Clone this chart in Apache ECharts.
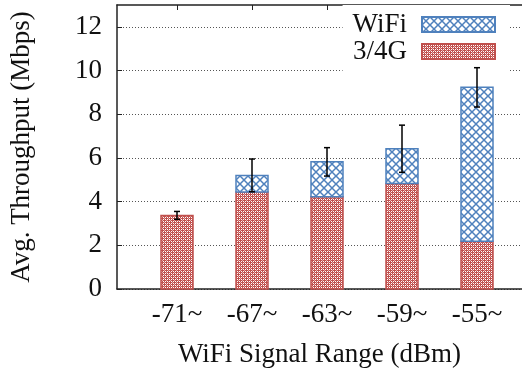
<!DOCTYPE html>
<html>
<head>
<meta charset="utf-8">
<script src="https://cdn.jsdelivr.net/npm/echarts@6/dist/echarts.min.js"></script>
<style>
  html, body { margin: 0; padding: 0; background: #fff; }
  #chart { width: 522px; height: 375px; }
</style>
</head>
<body>
<div id="chart"></div>
<script>
// WiFi signal ranges on the x axis
var categories = ['-71~', '-67~', '-63~', '-59~', '-55~']
// throughput carried by the cellular link (bottom of each stack)
var cellValues = [3.37, 4.44, 4.22, 4.83, 2.19]
// throughput carried by wifi (top of each stack)
var wifiValues = [0, 0.76, 1.60, 1.59, 7.04]
// half length of the error bar around the stack total
var errValues = [0.18, 0.75, 0.65, 1.08, 0.90]
var yTicks = [0, 2, 4, 6, 8, 10, 12]

var FONT = '"Liberation Serif", "DejaVu Serif", serif'
var FS = 27
var RED = '#c0504d'
var BLUE = '#4f81bd'

function makeCross() {
  var c = document.createElement('canvas')
  c.width = 8
  c.height = 8
  var ctx = c.getContext('2d')
  ctx.fillStyle = '#fff'
  ctx.fillRect(0, 0, 8, 8)
  ctx.strokeStyle = BLUE
  ctx.lineWidth = 1.5
  ctx.beginPath()
  ctx.moveTo(0, 0); ctx.lineTo(8, 8)
  ctx.moveTo(8, 0); ctx.lineTo(0, 8)
  ctx.stroke()
  return c
}

function makeChecker() {
  var c = document.createElement('canvas')
  c.width = 4
  c.height = 4
  var ctx = c.getContext('2d')
  ctx.fillStyle = RED
  ctx.fillRect(0, 0, 4, 4)
  ctx.fillStyle = '#fff'
  ctx.fillRect(1, 1, 1, 1)
  ctx.fillRect(3, 3, 1, 1)
  ctx.fillRect(3, 1, 1, 1)
  ctx.fillRect(1, 3, 1, 1)
  ctx.fillStyle = '#e3a9a7'
  ctx.fillRect(0, 2, 1, 1)
  ctx.fillRect(2, 0, 1, 1)
  return c
}

var crossFill = { image: makeCross(), repeat: 'repeat' }
var checkFill = { image: makeChecker(), repeat: 'repeat' }

// [x, bottom, top] for every box
var cellData = cellValues.map(function (v, i) { return [i, 0, v] })
var wifiData = wifiValues.map(function (v, i) { return [i, cellValues[i], cellValues[i] + v] })
var errData = cellValues.map(function (v, i) {
  var m = v + wifiValues[i]
  return [i, m - errValues[i], m + errValues[i]]
})
var xIdx = categories.map(function (c, i) { return i })

var myChart = echarts.init(document.getElementById('chart'))

var axisLine = { show: true, onZero: false, lineStyle: { color: '#222', width: 1.5 } }
var textBase = { fontFamily: FONT, fontSize: FS, color: '#111' }

function boxRenderer(fill, stroke) {
  return function (params, api) {
    var x = api.value(0)
    var y0 = api.value(1)
    var y1 = api.value(2)
    if (y1 <= y0) return null
    var p0 = api.coord([x, y0])
    var p1 = api.coord([x, y1])
    return {
      type: 'rect',
      shape: { x: p0[0] - 16, y: p1[1], width: 32, height: p0[1] - p1[1] },
      style: { fill: fill, stroke: stroke, lineWidth: 1.5 }
    }
  }
}

var option = {
  animation: false,
  backgroundColor: '#fff',
  grid: { left: 117, right: -6, top: 5, bottom: 86 },
  legend: {
    orient: 'vertical',
    right: 12,
    top: 5,
    align: 'right',
    itemWidth: 73,
    itemHeight: 15,
    itemGap: 0,
    padding: [6, 14, 6, 10],
    backgroundColor: '#fff',
    textStyle: Object.assign({ lineHeight: 27, padding: [0, 10, 0, 0] }, textBase),
    data: [{ name: 'WiFi', icon: 'rect' }, { name: '3/4G', icon: 'rect' }]
  },
  xAxis: [
    {
      type: 'value',
      min: -0.8,
      max: 4.6,
      name: 'WiFi Signal Range (dBm)',
      nameLocation: 'middle',
      nameGap: 52,
      nameTextStyle: textBase,
      axisLine: axisLine,
      axisTick: { show: true, inside: true, length: 5, customValues: xIdx, lineStyle: { color: '#222' } },
      axisLabel: Object.assign({
        customValues: xIdx,
        margin: 12,
        formatter: function (v) { return categories[Math.round(v)] }
      }, textBase),
      splitLine: { show: false }
    },
    {
      type: 'value',
      position: 'top',
      min: -0.8,
      max: 4.6,
      axisLine: axisLine,
      axisTick: { show: true, inside: true, length: 5, customValues: xIdx, lineStyle: { color: '#222' } },
      axisLabel: { show: false },
      splitLine: { show: false }
    }
  ],
  yAxis: {
    type: 'value',
    min: 0,
    max: 13,
    interval: 2,
    name: 'Avg. Throughput (Mbps)',
    nameLocation: 'middle',
    nameGap: 82,
    nameTextStyle: textBase,
    axisLine: axisLine,
    axisTick: { show: true, inside: true, length: 5, customValues: yTicks, lineStyle: { color: '#222' } },
    axisLabel: Object.assign({ customValues: yTicks, margin: 15 }, textBase),
    splitLine: { show: true, lineStyle: { color: '#555', width: 1, type: [1, 2] } }
  },
  series: [
    {
      name: '3/4G',
      type: 'custom',
      data: cellData,
      encode: { x: 0, y: [1, 2] },
      itemStyle: { color: checkFill, borderColor: RED, borderWidth: 1.5 },
      renderItem: boxRenderer(checkFill, RED)
    },
    {
      name: 'WiFi',
      type: 'custom',
      data: wifiData,
      encode: { x: 0, y: [1, 2] },
      itemStyle: { color: crossFill, borderColor: BLUE, borderWidth: 1.5 },
      renderItem: boxRenderer(crossFill, BLUE)
    },
    {
      name: 'err',
      type: 'custom',
      z: 5,
      data: errData,
      encode: { x: 0, y: [1, 2] },
      renderItem: function (params, api) {
        var x = api.value(0)
        var lo = api.coord([x, api.value(1)])
        var hi = api.coord([x, api.value(2)])
        var w = 3
        var style = { stroke: '#000', lineWidth: 1.5 }
        return {
          type: 'group',
          children: [
            { type: 'line', shape: { x1: hi[0], y1: hi[1], x2: lo[0], y2: lo[1] }, style: style },
            { type: 'line', shape: { x1: hi[0] - w, y1: hi[1], x2: hi[0] + w, y2: hi[1] }, style: style },
            { type: 'line', shape: { x1: lo[0] - w, y1: lo[1], x2: lo[0] + w, y2: lo[1] }, style: style }
          ]
        }
      }
    }
  ]
}

myChart.setOption(option)
</script>
</body>
</html>
